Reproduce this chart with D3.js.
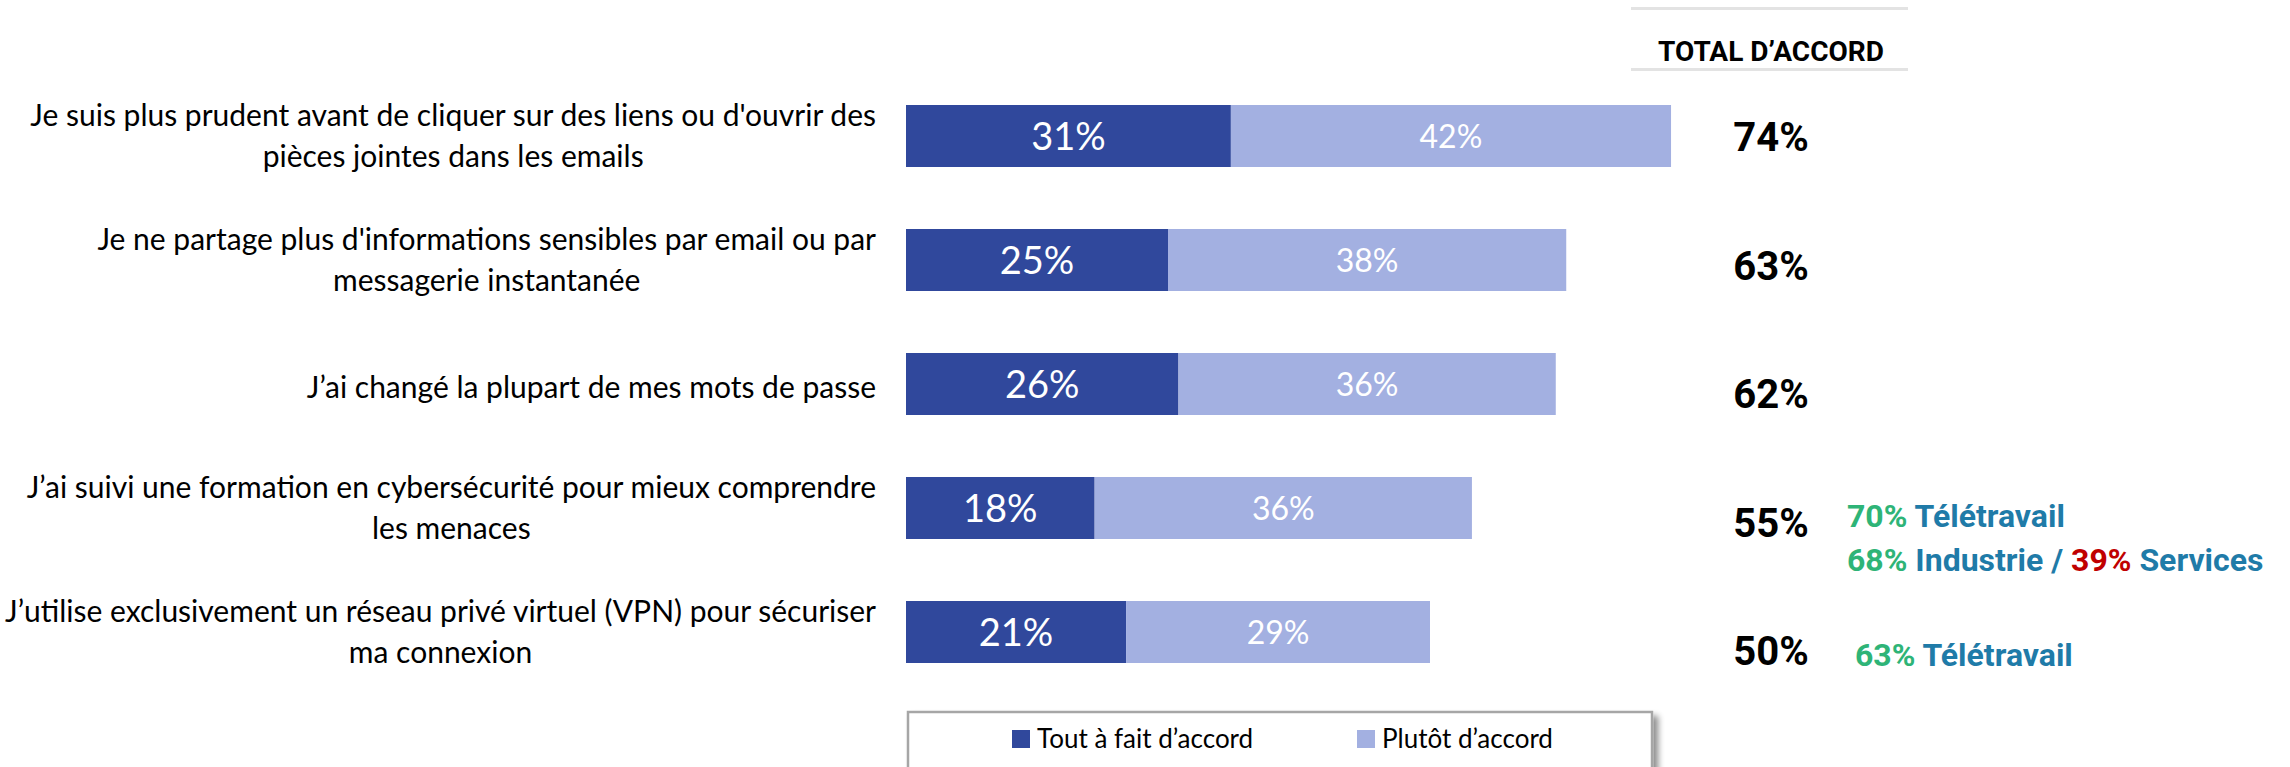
<!DOCTYPE html>
<html>
<head>
<meta charset="utf-8">
<script src="https://cdn.jsdelivr.net/npm/d3@7"></script>
<style>
  html, body { margin: 0; padding: 0; background: #fff; }
  svg { display: block; }
</style>
</head>
<body>
<svg id="chart"></svg>
<script>
// statements, wrapped as in the source slide
const categories = [
  ["Je suis plus prudent avant de cliquer sur des liens ou d'ouvrir des", "pièces jointes dans les emails"],
  ["Je ne partage plus d'informations sensibles par email ou par", "messagerie instantanée"],
  ["J’ai changé la plupart de mes mots de passe"],
  ["J’ai suivi une formation en cybersécurité pour mieux comprendre", "les menaces"],
  ["J’utilise exclusivement un réseau privé virtuel (VPN) pour sécuriser", "ma connexion"]
];
const toutAFait = [31, 25, 26, 18, 21];
const plutot = [42, 38, 36, 36, 29];
const totals = [74, 63, 62, 55, 50];
const seriesNames = ["Tout à fait d’accord", "Plutôt d’accord"];
const totalHeader = "TOTAL D’ACCORD";

// side notes: [row, lines of [text, tone]]
const notes = [
  [3, [[["70%", "up"], [" Télétravail", "txt"]],
       [["68%", "up"], [" Industrie / ", "txt"], ["39%", "down"], [" Services", "txt"]]]],
  [4, [[[" 63%", "up"], [" Télétravail", "txt"]]]]
];

const W = 2290, H = 767;
const colors = { dark: "#30489c", light: "#a3b0e1" };
const tones = { up: "#2eb477", down: "#c00000", txt: "#1f7ba8" };
const labelFont = "Lato, 'Open Sans', sans-serif";
const boldFont = "Roboto, 'Noto Sans', sans-serif";

const svg = d3.select("#chart").attr("width", W).attr("height", H);

const x = d3.scaleLinear().domain([0, 100]).range([906, 1954]);
const y = d3.scaleBand().domain(d3.range(categories.length))
  .range([74, 694]).paddingInner(0.5).paddingOuter(0.25);
// total column sits in its own table, slightly looser rows
const yTot = d3.scalePoint().domain(d3.range(totals.length)).range([137, 651]);

const rows = categories.map((c, i) => ({
  i, lines: c, a: toutAFait[i], b: plutot[i]
}));

// bars
const g = svg.append("g");
const row = g.selectAll("g.row").data(rows).join("g").attr("class", "row");

row.append("rect")
  .attr("x", x(0))
  .attr("y", d => y(d.i))
  .attr("width", d => x(d.a) - x(0))
  .attr("height", y.bandwidth())
  .attr("fill", colors.dark);

row.append("rect")
  .attr("x", d => x(d.a))
  .attr("y", d => y(d.i))
  .attr("width", d => x(d.a + d.b) - x(d.a))
  .attr("height", y.bandwidth())
  .attr("fill", colors.light);

row.append("text")
  .attr("x", d => (x(0) + x(d.a)) / 2)
  .attr("y", d => y(d.i) + y.bandwidth() / 2)
  .attr("dy", "0.36em")
  .attr("text-anchor", "middle")
  .attr("fill", "#fff")
  .style("font", `38px ${labelFont}`)
  .text(d => d.a + "%");

row.append("text")
  .attr("x", d => (x(d.a) + x(d.a + d.b)) / 2)
  .attr("y", d => y(d.i) + y.bandwidth() / 2)
  .attr("dy", "0.36em")
  .attr("text-anchor", "middle")
  .attr("fill", "#fff")
  .style("font", `32px ${labelFont}`)
  .text(d => d.b + "%");

// category labels: block right-aligned, lines centred on each other
const labelRight = 876;
row.each(function(d) {
  const cy = y(d.i) + y.bandwidth() / 2;
  const sel = d3.select(this);
  const n = d.lines.length;
  const first = sel.append("text")
    .attr("x", labelRight)
    .attr("y", n === 1 ? cy + 3 : cy - 20.5)
    .attr("dy", "0.35em")
    .attr("text-anchor", "end")
    .style("font", `30px ${labelFont}`).attr("fill", "#000")
    .text(d.lines[0]);
  if (n > 1) {
    const w = first.node().getComputedTextLength();
    sel.append("text")
      .attr("x", labelRight - w / 2)
      .attr("y", cy + 20.5)
      .attr("dy", "0.35em")
      .attr("text-anchor", "middle")
      .style("font", `30px ${labelFont}`).attr("fill", "#000")
      .text(d.lines[1]);
  }
});

// total column
const totX = 1771;
svg.append("line").attr("x1", 1631).attr("x2", 1908).attr("y1", 8.5).attr("y2", 8.5)
  .attr("stroke", "#e3e3e3").attr("stroke-width", 3);
svg.append("line").attr("x1", 1631).attr("x2", 1908).attr("y1", 69.5).attr("y2", 69.5)
  .attr("stroke", "#e3e3e3").attr("stroke-width", 3);
svg.append("text")
  .attr("x", totX).attr("y", 61)
  .attr("text-anchor", "middle")
  .style("font", `700 28px ${boldFont}`)
  .attr("fill", "#000")
  .text(totalHeader);

svg.append("g").selectAll("text").data(totals).join("text")
  .attr("x", totX)
  .attr("y", (d, i) => yTot(i))
  .attr("dy", "0.36em")
  .attr("text-anchor", "middle")
  .style("font", `700 40px ${boldFont}`)
  .attr("fill", "#000")
  .text(d => d + "%");

// side notes
notes.forEach(([r, lines]) => {
  lines.forEach((parts, li) => {
    const t = svg.append("text")
      .attr("x", 1847)
      .attr("y", r === 3 ? 515 + li * 44 : 654)
      .attr("dy", "0.36em")
      .style("font", `700 32px ${boldFont}`)
      .attr("xml:space", "preserve")
      .style("white-space", "pre");
    t.selectAll("tspan").data(parts).join("tspan")
      .attr("fill", p => tones[p[1]])
      .text(p => p[0]);
  });
});

// legend
const defs = svg.append("defs");
const f = defs.append("filter").attr("id", "shadow")
  .attr("x", "-5%").attr("y", "-20%").attr("width", "115%").attr("height", "160%");
f.append("feGaussianBlur").attr("in", "SourceAlpha").attr("stdDeviation", 3);
f.append("feOffset").attr("dx", 5).attr("dy", 5).attr("result", "off");
f.append("feComponentTransfer").append("feFuncA").attr("type", "linear").attr("slope", 0.45);
const fm = f.append("feMerge");
fm.append("feMergeNode");
fm.append("feMergeNode").attr("in", "SourceGraphic");

svg.append("rect")
  .attr("x", 908).attr("y", 712).attr("width", 744).attr("height", 90)
  .attr("fill", "#fff").attr("stroke", "#a6a6a6").attr("stroke-width", 2.5)
  .attr("filter", "url(#shadow)");

const legendX = [1012, 1357];
const lg = svg.append("g").selectAll("g").data(seriesNames).join("g")
  .attr("transform", (d, i) => `translate(${legendX[i]},730)`);
lg.append("rect").attr("width", 18).attr("height", 18)
  .attr("fill", (d, i) => i === 0 ? colors.dark : colors.light);
lg.append("text").attr("x", 25).attr("y", 9).attr("dy", "0.36em")
  .style("font", `26px ${labelFont}`).attr("fill", "#000")
  .text(d => d);
</script>
</body>
</html>
